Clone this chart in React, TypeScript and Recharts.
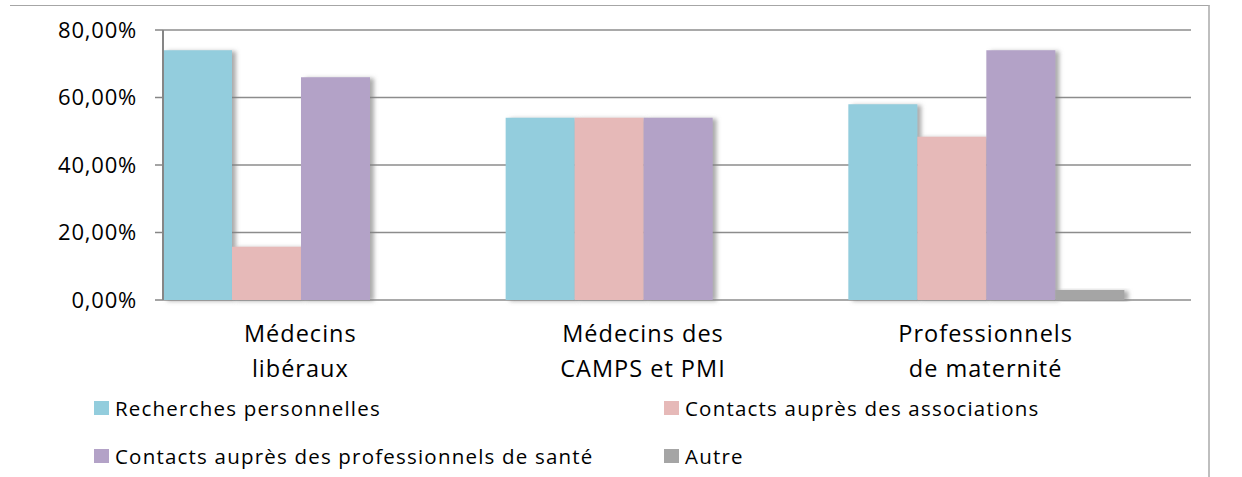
import { BarChart, Bar, XAxis, YAxis, CartesianGrid } from "recharts"

const categories = ["Médecins\nlibéraux", "Médecins des\nCAMPS et PMI", "Professionnels\nde maternité"]
const recherches = [74, 54, 58]
const associations = [15.8, 54, 48.4]
const professionnels = [66, 54, 74]
const autre = [0, 0, 3]
const yTicks = [0, 20, 40, 60, 80]

const series = [
  { key: "recherches", name: "Recherches personnelles", color: "#93CDDD", values: recherches },
  { key: "associations", name: "Contacts auprès des associations", color: "#E6B9B8", values: associations },
  { key: "professionnels", name: "Contacts auprès des professionnels de santé", color: "#B3A2C7", values: professionnels },
  { key: "autre", name: "Autre", color: "#A5A5A5", values: autre },
]

const data = categories.map((name, i) => {
  const row: Record<string, string | number> = { name }
  series.forEach((s) => { row[s.key] = s.values[i] })
  return row
})

const FONT = "'Open Sans', sans-serif"

function CategoryTick({ x, y, payload }: any) {
  const lines = String(payload.value).split("\n")
  return (
    <text x={x} y={y} textAnchor="middle" fill="#000" fontFamily={FONT} fontSize={23.5} letterSpacing={1}>
      {lines.map((line, i) => (
        <tspan key={i} x={x} dy={i === 0 ? 42 : 35}>{line}</tspan>
      ))}
    </text>
  )
}

function ValueTick({ x, y, payload }: any) {
  return (
    <text x={x} y={y} dy="0.36em" textAnchor="end" fill="#000" fontFamily={FONT} fontSize={22} letterSpacing={0.8}>
      {`${payload.value},00%`}
    </text>
  )
}

export default function App() {
  // legend order: row by row, two columns
  const legendPos = [
    { left: 94, top: 401 },
    { left: 664, top: 401 },
    { left: 94, top: 449 },
    { left: 664, top: 449 },
  ]
  return (
    <div style={{ position: "absolute", left: 0, top: 0, width: 1242, height: 477, background: "#fff" }}>
      <div
        style={{
          position: "absolute", left: 10, top: 5, width: 1198, height: 472,
          borderTop: "1.5px solid #a6a6a6", borderRight: "2px solid #bfbfbf",
        }}
      />
      <BarChart
        width={1242}
        height={477}
        data={data}
        margin={{ top: 30, right: 51, left: 0, bottom: 0 }}
        barCategoryGap={34}
        barGap={0}
        style={{ position: "absolute", left: 0, top: 0 }}
      >
        <defs>
          <filter id="barShadow" x="-20%" y="-10%" width="140%" height="120%">
            <feDropShadow dx="4" dy="1" stdDeviation="2" floodColor="#7f7f7f" floodOpacity="0.65" />
          </filter>
        </defs>
        <CartesianGrid vertical={false} stroke="#8c8c8c" strokeWidth={1.5} />
        <XAxis
          dataKey="name"
          height={177}
          padding={{ left: -34, right: 34 }}
          axisLine={false}
          tickLine={false}
          tickSize={0}
          tickMargin={0}
          interval={0}
          tick={<CategoryTick />}
        />
        <YAxis
          width={163}
          domain={[0, 80]}
          ticks={yTicks}
          interval={0}
          axisLine={{ stroke: "#868686", strokeWidth: 2 }}
          tickLine={{ stroke: "#868686", strokeWidth: 1.5 }}
          tickSize={8}
          tickMargin={18}
          tick={<ValueTick />}
        />
        {series.map((s) => (
          <Bar
            key={s.key}
            dataKey={s.key}
            name={s.name}
            fill={s.color}
            filter="url(#barShadow)"
            isAnimationActive={false}
          />
        ))}
      </BarChart>
      {series.map((s, i) => (
        <div
          key={s.key}
          style={{
            position: "absolute", left: legendPos[i].left, top: legendPos[i].top,
            display: "flex", alignItems: "center", fontFamily: FONT, fontSize: 20.5,
            letterSpacing: 1.2, color: "#000", whiteSpace: "nowrap", lineHeight: "14px",
          }}
        >
          <span style={{ display: "inline-block", width: 15, height: 14, background: s.color, marginRight: 6 }} />
          <span>{s.name}</span>
        </div>
      ))}
    </div>
  )
}
